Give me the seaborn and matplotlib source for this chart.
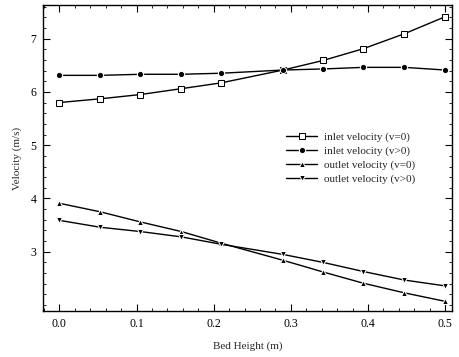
import matplotlib
matplotlib.use("Agg")
import matplotlib.pyplot as plt
import seaborn as sns
import pandas as pd
from matplotlib.ticker import MultipleLocator

bed_height = [0.0, 0.053, 0.105, 0.158, 0.21, 0.29, 0.342, 0.394, 0.447, 0.5]
inlet_v0 = [5.80, 5.87, 5.95, 6.06, 6.17, 6.41, 6.59, 6.81, 7.09, 7.41]
inlet_vp = [6.31, 6.31, 6.33, 6.33, 6.35, 6.41, 6.43, 6.46, 6.46, 6.41]
outlet_v0 = [3.91, 3.75, 3.56, 3.38, 3.16, 2.84, 2.62, 2.41, 2.23, 2.07]
outlet_vp = [3.59, 3.46, 3.38, 3.28, 3.14, 2.95, 2.80, 2.63, 2.47, 2.36]
series_names = ["inlet velocity (v=0)", "inlet velocity (v>0)",
                "outlet velocity (v=0)", "outlet velocity (v>0)"]
x_ticks = [0.0, 0.1, 0.2, 0.3, 0.4, 0.5]
x_tick_labels = ["0.0", "0.1", "0.2", "0.3", "0.4", "0.5"]
y_ticks = [3, 4, 5, 6, 7]

rows = []
for name, vals in zip(series_names, [inlet_v0, inlet_vp, outlet_v0, outlet_vp]):
    for x, y in zip(bed_height, vals):
        rows.append({"Bed Height (m)": x, "Velocity (m/s)": y, "series": name})
df = pd.DataFrame(rows)

sns.set_style("ticks")
plt.rcParams["font.family"] = ["Liberation Serif", "DejaVu Serif"]

fig = plt.figure(figsize=(4.59, 3.57), dpi=100)
ax = fig.add_axes([0.094, 0.129, 0.891, 0.857])

markers = {series_names[0]: "s", series_names[1]: "o",
           series_names[2]: "^", series_names[3]: "v"}
palette = {n: "black" for n in series_names}

sns.lineplot(data=df, x="Bed Height (m)", y="Velocity (m/s)", hue="series",
             style="series", markers=markers, dashes=False, palette=palette,
             hue_order=series_names, style_order=series_names,
             linewidth=1.0, markersize=4.5, ax=ax, legend=True)

for line in ax.lines:
    if line.get_marker() == "s":
        line.set_markerfacecolor("white")
        line.set_markeredgecolor("black")

ax.set_xlim(-0.021, 0.509)
ax.set_ylim(1.89, 7.63)
ax.set_xticks(x_ticks, x_tick_labels)
ax.set_yticks(y_ticks, [str(v) for v in y_ticks])
ax.xaxis.set_minor_locator(MultipleLocator(0.02))
ax.yaxis.set_minor_locator(MultipleLocator(0.2))
ax.tick_params(which="both", direction="in", top=True, right=True,
               labelsize=8.5, colors="black")
ax.tick_params(which="major", length=5, width=0.8, pad=5)
ax.tick_params(which="minor", length=2.5, width=0.6)
for s in ax.spines.values():
    s.set_linewidth(1.0)
    s.set_color("black")

ax.set_xlabel("Bed Height (m)", fontsize=8, labelpad=8)
ax.set_ylabel("Velocity (m/s)", fontsize=8, labelpad=6)

handles, labels = ax.get_legend_handles_labels()
for h in handles:
    if h.get_marker() == "s":
        h.set_markerfacecolor("white")
ax.legend(handles, labels, loc="center left", bbox_to_anchor=(0.57, 0.50),
          frameon=False, fontsize=8, handlelength=2.8, handletextpad=0.6,
          labelspacing=0.35)

fig.savefig("out.png", dpi=100)
